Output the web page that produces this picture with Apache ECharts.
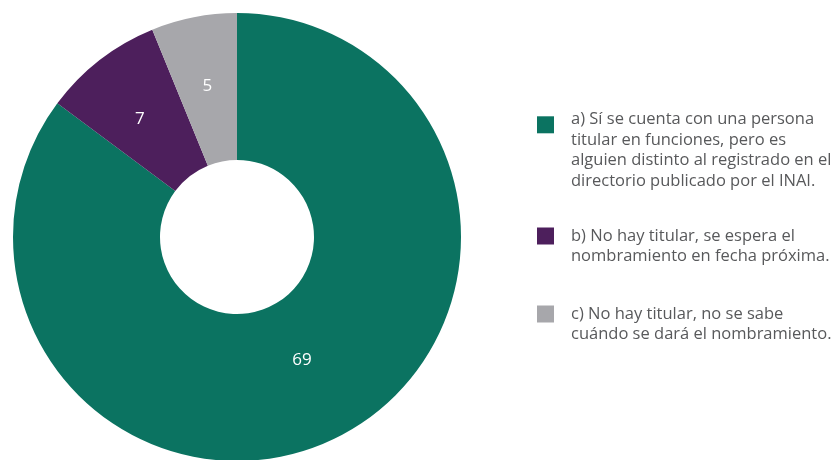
<!DOCTYPE html>
<html>
<head>
<meta charset="utf-8">
<script src="https://cdn.jsdelivr.net/npm/echarts@6/dist/echarts.min.js"></script>
<style>html,body{margin:0;padding:0;background:#fff;}#c{width:835px;height:460px;}</style>
</head>
<body>
<div id="c"></div>
<script>
const categories = [
  "a) Sí se cuenta con una persona\ntitular en funciones, pero es\nalguien distinto al registrado en el\ndirectorio publicado por el INAI.",
  "b) No hay titular, se espera el\nnombramiento en fecha próxima.",
  "c) No hay titular, no se sabe\ncuándo se dará el nombramiento."
];
const values = [69, 7, 5];
const colors = ["#0b7361", "#4d1f5c", "#a7a7ab"];

const FONT = "Open Sans";
const lh = 20.5;
const iconCenters = [124.8, 236, 314];
const firstLineCenters = [119.5, 236.5, 314.5];

const chart = echarts.init(document.getElementById('c'), null, {renderer: 'canvas'});
const legends = categories.map((name, i) => {
  const nLines = name.split("\n").length;
  const spacer = Math.max(0, 2 * (iconCenters[i] - firstLineCenters[i]));
  const textH = (2 * nLines - 1) * lh + spacer;
  return {
    data: [name],
    orient: 'vertical',
    left: 537,
    top: iconCenters[i] - textH / 2,
    padding: 0,
    itemWidth: 17,
    itemHeight: 17,
    itemGap: 0,
    icon: 'rect',
    selectedMode: false,
    formatter: function (n) {
      const lines = n.split("\n");
      const pre = new Array(lines.length - 1).fill('');
      let out = pre.concat(lines.map(l => '{g| }{t|' + l + '}'));
      if (spacer > 0) out.push('{h| }');
      return out.join('\n');
    },
    textStyle: {
      fontFamily: FONT,
      fontSize: 16.5,
      lineHeight: lh,
      color: '#58595b',
      rich: {
        g: {width: 12, fontSize: 16.5, lineHeight: lh},
        t: {fontFamily: FONT, fontSize: 16.5, lineHeight: lh, color: '#58595b'},
        h: {fontSize: 1, lineHeight: spacer, height: spacer}
      }
    }
  };
});

chart.setOption({
  animation: false,
  color: colors,
  legend: legends,
  series: [{
    type: 'pie',
    center: [237, 237],
    radius: [77, 224],
    startAngle: 90,
    clockwise: true,
    avoidLabelOverlap: false,
    itemStyle: {borderWidth: 0},
    label: {
      show: true,
      position: 'inside',
      formatter: '{c}',
      color: '#ffffff',
      fontFamily: FONT,
      fontSize: 17
    },
    labelLine: {show: false},
    emphasis: {disabled: true},
    data: categories.map((name, i) => ({
      name: name,
      value: values[i],
      label: i === 0 ? {offset: [-4, -14]} : (i === 1 ? {offset: [-3, 3]} : {})
    }))
  }]
});
</script>
</body>
</html>
